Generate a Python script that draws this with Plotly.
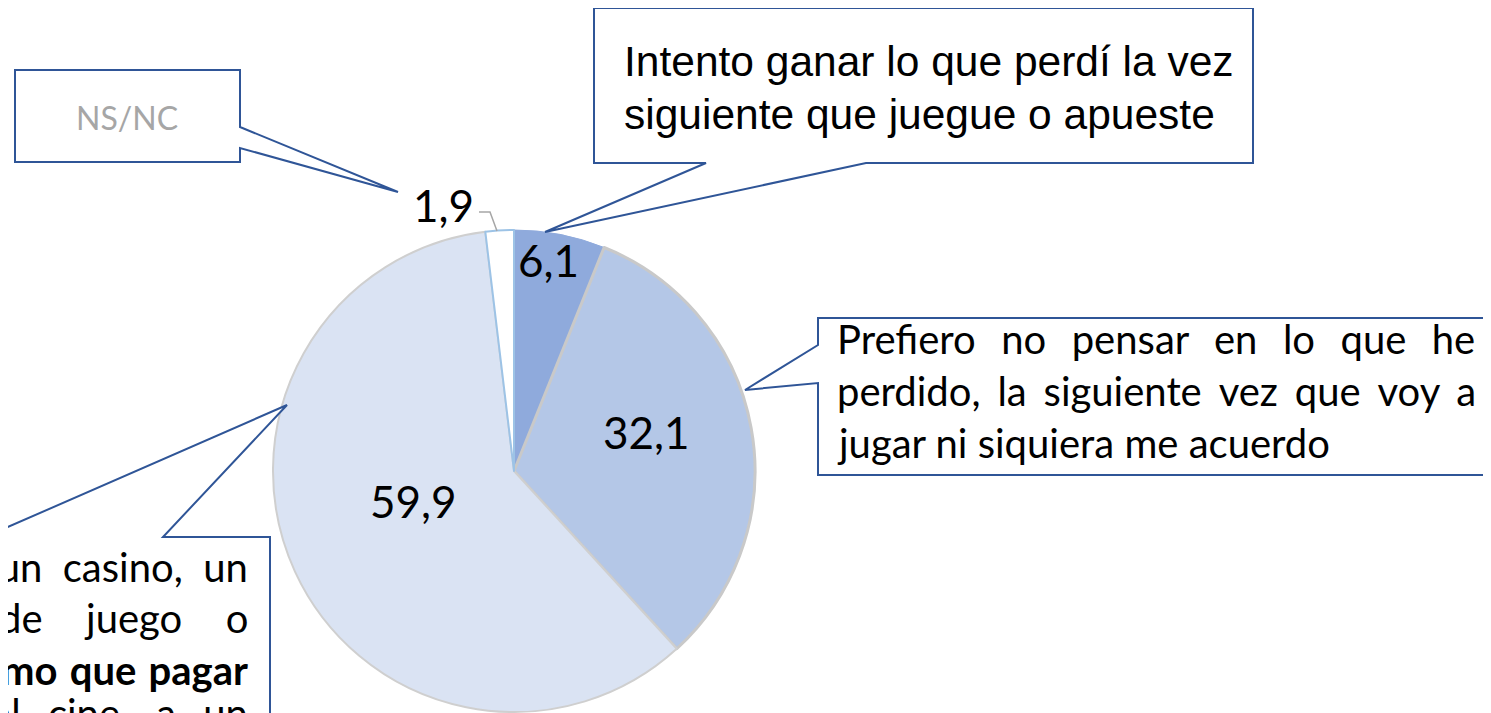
import math
import plotly.graph_objects as go

# ---------------- data ----------------
categories = [
    "Intento ganar lo que perdí la vez siguiente que juegue o apueste",
    "Prefiero no pensar en lo que he perdido, la siguiente vez que voy a jugar ni siquiera me acuerdo",
    "Lo veo como ir a un casino, un salón de juego o es como que pagar por ir al cine, a un concierto",
    "NS/NC",
]
values = [6.1, 32.1, 59.9, 1.9]
value_labels = ["6,1", "32,1", "59,9", "1,9"]

# ---------------- style ----------------
W, H = 1491, 713
OFF = 8                             # page body margin
slice_colors = ["#8FAADC", "#B4C7E7", "#DAE3F3", "#FFFFFF"]
slice_line_colors = ["#8FAADC", "#C9C9C9", "#CFCFCF", "#9DC3E6"]
slice_line_widths = [1, 3, 2, 2]
CX, CY, R = 514, 471, 241          # pie centre / radius in pixels
label_rfrac = [0.87, 0.57, 0.44, 1.10]
label_dtheta = [-1.4, -4.4, 5.8, -4.8]
label_anchor = ["center", "center", "center", "right"]
BLUE = "#2F5597"
CAL = "Lato, Calibri, sans-serif"
ARIAL = "Liberation Sans, Arial, sans-serif"


def px(x):
    return (x - OFF) / W


def py(y):
    return 1 - (y - OFF) / H


fig = go.Figure()
fig.add_trace(go.Pie(
    labels=categories,
    values=values,
    sort=False,
    direction="clockwise",
    rotation=0,
    marker=dict(colors=slice_colors,
                line=dict(color=slice_line_colors, width=slice_line_widths)),
    textinfo="none",
    hoverinfo="label+value",
    showlegend=False,
    domain=dict(x=[px(CX - R), px(CX + R)], y=[py(CY + R), py(CY - R)]),
))

annotations = []
shapes = []

# value labels, placed from the data's angles
total = sum(values)
cum = 0
for v, lab, rf, dt, anc in zip(values, value_labels, label_rfrac, label_dtheta, label_anchor):
    mid = (cum + v / 2) / total * 360 + dt
    cum += v
    x = CX + rf * R * math.sin(math.radians(mid))
    y = CY - rf * R * math.cos(math.radians(mid))
    annotations.append(dict(x=px(x), y=py(y - 4), xref="paper", yref="paper",
                            text=lab, showarrow=False, xanchor=anc, yanchor="middle",
                            font=dict(family=CAL, size=44, color="#000000")))

# gray leader for the small slice
shapes.append(dict(type="path", xref="paper", yref="paper",
                   path=f"M{px(479)},{py(212)} L{px(490)},{py(212)} L{px(497)},{py(231)}",
                   line=dict(color="#A6A6A6", width=1.5)))


def callout(points):
    d = "M" + " L".join(f"{px(x)},{py(y)}" for x, y in points) + " Z"
    shapes.append(dict(type="path", xref="paper", yref="paper", path=d,
                       fillcolor="#FFFFFF", line=dict(color=BLUE, width=2), layer="above"))


callout([(594, 8), (1253, 8), (1253, 163), (866, 163), (545, 232), (706, 163), (594, 163)])
callout([(818, 318), (1520, 318), (1520, 475), (818, 475), (818, 383), (745, 390), (818, 345)])
callout([(15, 70), (240, 70), (240, 127), (398, 192), (240, 148), (240, 162), (15, 162)])
callout([(-400, 537), (-15, 537), (287, 405), (163, 537), (270, 537), (270, 780), (-400, 780)])


def text(x, y, s, family, size, color="#000000", xanchor="left"):
    annotations.append(dict(x=px(x), y=py(y), xref="paper", yref="paper", text=s,
                            showarrow=False, xanchor=xanchor, yanchor="middle",
                            font=dict(family=family, size=size, color=color)))


NB = "\u00a0"
SIX = "\u2006"
HAIR = "\u200a"

# top callout
text(622, 62, "Intento ganar lo que perdí la vez", ARIAL, 42.5)
text(622, 114, "siguiente que juegue o apueste", ARIAL, 42.5)

# NS/NC
text(127, 118, "NS/NC", CAL, 32, color="#A6A6A6", xanchor="center")

# right callout (justified lines)
text(835, 339, (NB * 2 + HAIR * 2).join(["Prefiero", "no", "pensar", "en", "lo", "que", "he"]), CAL, 40)
text(835, 391, (NB + SIX).join(["perdido,", "la", "siguiente", "vez", "que", "voy", "a"]), CAL, 40)
text(835, 443, "jugar ni siquiera me acuerdo", CAL, 40)

# bottom-left callout (justified, clipped on the left)
text(250, 567, (NB * 2).join(["como", "ir", "a", "un", "casino,", "un"]), CAL, 40, xanchor="right")
text(250, 618, (NB * 4 + HAIR).join(["salón", "de", "juego", "o"]), CAL, 40, xanchor="right")
text(250, 670, "<b>" + (NB + HAIR).join(["es", "como", "que", "pagar"]) + "</b>", CAL, 40, xanchor="right")
text(250, 713, (NB * 2 + SIX).join(["por", "ir", "al", "cine,", "a", "un"]), CAL, 40, xanchor="right")

fig.update_layout(
    width=W, height=H,
    margin=dict(l=0, r=0, t=0, b=0),
    paper_bgcolor="#FFFFFF",
    plot_bgcolor="#FFFFFF",
    annotations=annotations,
    shapes=shapes,
    showlegend=False,
)

fig.write_html("out.html")
